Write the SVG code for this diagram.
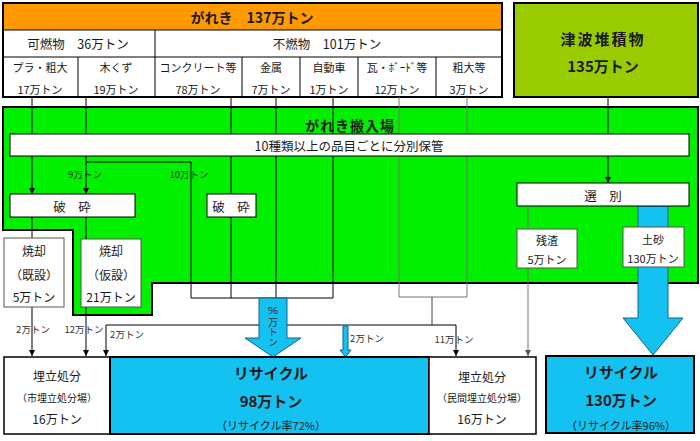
<svg xmlns="http://www.w3.org/2000/svg" width="700" height="441" viewBox="0 0 700 441">
<defs>
<style>
text{font-family:"Noto Sans CJK JP","Noto Sans",sans-serif;dominant-baseline:central;text-anchor:middle;fill:#1a1a1a}
.b{font-weight:bold}
.t11{font-size:11px}.t12{font-size:12px}.t13{font-size:12.5px}.t14{font-size:14px}.t15{font-size:15px}
.lbl{font-size:9.5px;fill:#333}
.vt{font-size:10px;fill:#333;writing-mode:vertical-rl;text-orientation:upright}
.ln{fill:none;stroke:#000;stroke-width:1}
.lg{fill:none;stroke:#777;stroke-width:1}
.box{fill:#fff;stroke:#000;stroke-width:1}
.sbox{fill:#fff;stroke:#555;stroke-width:1}
.blue{fill:#14C2F2;stroke:#1d5e86;stroke-width:1}
</style>
<marker id="ah" viewBox="0 0 6 6" refX="6" refY="3" markerWidth="6" markerHeight="6" orient="auto" markerUnits="userSpaceOnUse"><path d="M0,0 L6,3 L0,6 z" fill="#000"/></marker>
<marker id="ahg" viewBox="0 0 6 6" refX="6" refY="3" markerWidth="6" markerHeight="6" orient="auto" markerUnits="userSpaceOnUse"><path d="M0,0 L6,3 L0,6 z" fill="#555"/></marker>
</defs>
<rect width="700" height="441" fill="#fff"/>

<g id="garekiTable">
<rect x="3" y="3" width="499" height="27" fill="#FF9900"/>
<rect x="3" y="30" width="499" height="67" fill="#fff"/>
<line class="ln" x1="3" y1="30" x2="502" y2="30"/>
<line class="ln" x1="3" y1="57" x2="502" y2="57"/>
<line class="ln" x1="155" y1="30" x2="155" y2="97"/>
<line class="ln" x1="78" y1="57" x2="78" y2="97"/>
<line class="ln" x1="242" y1="57" x2="242" y2="97"/>
<line class="ln" x1="300" y1="57" x2="300" y2="97"/>
<line class="ln" x1="358" y1="57" x2="358" y2="97"/>
<line class="ln" x1="436" y1="57" x2="436" y2="97"/>
<rect x="3" y="3" width="499" height="94" fill="none" stroke="#000" stroke-width="2"/>
<text class="t14 b" x="252" y="17">がれき　137万トン</text>
<text class="t13" x="78" y="43">可燃物　36万トン</text>
<text class="t13" x="327" y="43">不燃物　101万トン</text>
<text class="t11" x="40" y="67">プラ・粗大</text>
<text class="t11" x="116" y="67">木くず</text>
<text class="t11" x="198" y="67">コンクリート等</text>
<text class="t11" x="271" y="67">金属</text>
<text class="t11" x="329" y="67">自動車</text>
<text class="t11" x="397" y="67">瓦・ﾎﾞｰﾄﾞ等</text>
<text class="t11" x="469" y="67">粗大等</text>
<text class="t11" x="40" y="89">17万トン</text>
<text class="t11" x="116" y="89">19万トン</text>
<text class="t11" x="198" y="89">78万トン</text>
<text class="t11" x="271" y="89">7万トン</text>
<text class="t11" x="329" y="89">1万トン</text>
<text class="t11" x="397" y="89">12万トン</text>
<text class="t11" x="469" y="89">3万トン</text>
</g>

<g id="tsunami">
<rect x="514" y="3" width="184" height="94" fill="#99CC00" stroke="#000" stroke-width="2"/>
<text class="t15 b" x="603" y="38" style="letter-spacing:2px">津波堆積物</text>
<text class="t15 b" x="603" y="65">135万トン</text>
</g>

<g id="yard">
<polygon points="3,107 698,107 698,283 152,283 152,315 73,315 73,230 3,230" fill="#00F000" stroke="#000" stroke-width="2"/>
<text class="t14 b" x="350" y="125" style="letter-spacing:1px">がれき搬入場</text>
</g>

<g id="connectors">
<path class="ln" d="M32,97 V194" marker-end="url(#ah)"/>
<path class="ln" d="M86,97 V194" marker-end="url(#ah)"/>
<path class="ln" d="M86,162 H191 V298"/>
<path class="ln" d="M231,97 V298"/>
<path class="ln" d="M276,97 V298"/>
<path class="ln" d="M333,97 V298"/>
<path class="ln" d="M191,298 H333"/>
<path class="lg" d="M399,97 V297 M467,97 V297 M399,297 H467"/>
<path class="lg" d="M432,297 V325" style="stroke:#444"/>
<path class="ln" d="M106,325 H456"/>
<path class="ln" d="M106,325 V356" marker-end="url(#ah)"/>
<path class="ln" d="M456,325 V356" marker-end="url(#ah)"/>
<path class="ln" d="M32,217 V238"/>
<path class="ln" d="M32,307 V356" marker-end="url(#ah)"/>
<path class="ln" d="M86,217 V239"/>
<path class="ln" d="M86,307 V356" marker-end="url(#ah)"/>
<path class="ln" d="M608,97 V183" marker-end="url(#ah)"/>
<path class="lg" d="M528,206 V356" marker-end="url(#ahg)"/>
<polygon class="blue" points="259,298 287,298 287,338 301,338 273,357 245,338 259,338"/>
<polygon class="blue" points="638,206 668,206 668,318 683,318 653,355 623,318 638,318"/>
<polygon class="blue" points="343,326 348,326 348,350 351,350 345.5,357 340,350 343,350"/>
<text class="lbl" x="85" y="174">9万トン</text>
<text class="lbl" x="189" y="174">10万トン</text>
<text class="lbl" x="33" y="329">2万トン</text>
<text class="lbl" x="84" y="329">12万トン</text>
<text class="lbl" x="127" y="334">2万トン</text>
<text class="lbl" x="367" y="338">2万トン</text>
<text class="lbl" x="454" y="339">11万トン</text>
<text style="font-size:9px;fill:#333" x="273" y="310">96</text>
<text class="vt" x="273" y="332">万トン</text>
</g>

<g id="bunbetsu">
<rect class="box" x="10" y="134" width="679" height="22"/>
<text class="t13" x="349" y="145">10種類以上の品目ごとに分別保管</text>
</g>

<g id="hasai1">
<rect class="box" x="10" y="194" width="125" height="23"/>
<text class="t13" x="72" y="206">破　砕</text>
</g>
<g id="hasai2">
<rect class="box" x="207" y="194" width="49" height="23"/>
<text class="t13" x="231" y="206">破　砕</text>
</g>
<g id="senbetsu">
<rect class="box" x="517" y="183" width="172" height="23"/>
<text class="t13" x="603" y="195">選　別</text>
</g>

<g id="shokyakuKisetsu">
<rect class="sbox" x="4" y="238" width="60" height="69"/>
<text class="t12" x="34" y="250">焼却</text>
<text class="t12" x="34" y="274">（既設）</text>
<text class="t12" x="34" y="296">5万トン</text>
</g>
<g id="shokyakuKasetsu">
<rect class="sbox" x="81" y="239" width="60" height="68"/>
<text class="t12" x="111" y="250">焼却</text>
<text class="t12" x="111" y="274">（仮設）</text>
<text class="t12" x="111" y="296">21万トン</text>
</g>
<g id="zansa">
<rect class="sbox" x="517" y="229" width="60" height="39"/>
<text class="t11" x="547" y="240">残渣</text>
<text class="t11" x="547" y="259">5万トン</text>
</g>
<g id="dosha">
<rect class="sbox" x="623" y="227" width="61" height="40"/>
<text class="t11" x="653" y="239">土砂</text>
<text class="t11" x="653" y="258">130万トン</text>
</g>

<g id="landfillCity">
<rect x="4" y="357" width="106" height="77" fill="#fff" stroke="#000" stroke-width="1.5"/>
<text class="t12" x="57" y="375">埋立処分</text>
<text style="font-size:10px" x="57" y="397">（市埋立処分場）</text>
<text class="t12" x="57" y="418">16万トン</text>
</g>
<g id="recycle98">
<rect x="110" y="357" width="319" height="77" fill="#14C2F2" stroke="#000" stroke-width="2"/>
<text class="t15 b" x="271" y="372">リサイクル</text>
<text class="t15 b" x="271" y="400">98万トン</text>
<text class="t11" x="271" y="425">（リサイクル率72%）</text>
</g>
<g id="landfillPrivate">
<rect x="429" y="357" width="107" height="77" fill="#fff" stroke="#000" stroke-width="1.5"/>
<text class="t12" x="482" y="376">埋立処分</text>
<text style="font-size:10px" x="482" y="397">（民間埋立処分場）</text>
<text class="t12" x="482" y="418">16万トン</text>
</g>
<g id="recycle130">
<rect x="546" y="356" width="148" height="77" fill="#14C2F2" stroke="#000" stroke-width="2"/>
<text class="t15 b" x="621" y="371">リサイクル</text>
<text class="t15 b" x="621" y="399">130万トン</text>
<text class="t11" x="621" y="425">（リサイクル率96%）</text>
</g>
</svg>
